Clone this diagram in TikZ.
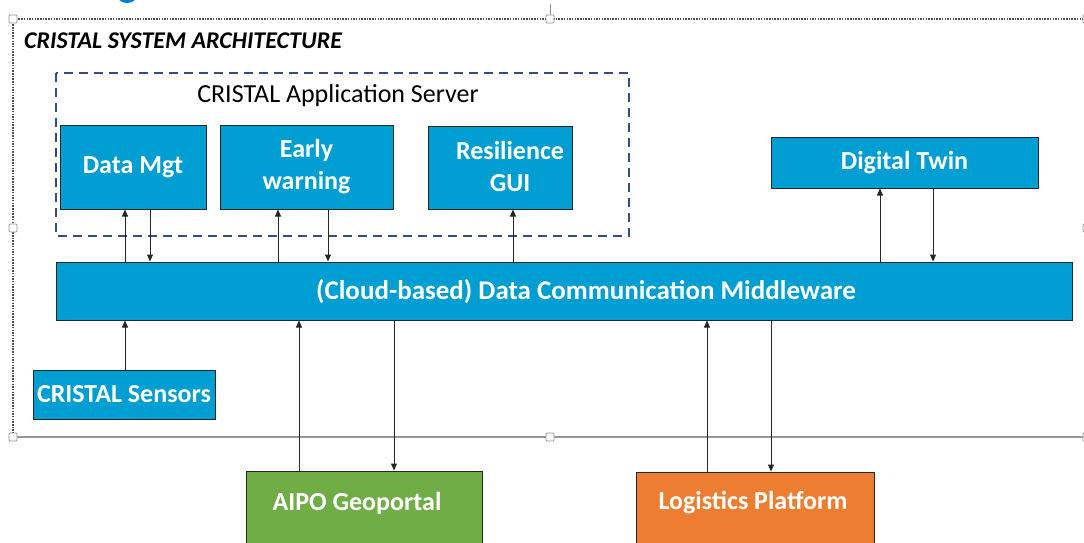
\documentclass[tikz,border=0pt]{standalone}
\usepackage{fontspec}
\setmainfont{Carlito}
\usetikzlibrary{arrows.meta}
\definecolor{cblue}{RGB}{0,158,210}
\definecolor{cgreen}{RGB}{112,173,71}
\definecolor{corange}{RGB}{237,125,49}
\definecolor{dashblue}{RGB}{47,77,140}
\definecolor{frameg}{RGB}{150,150,150}
\tikzset{
  box/.style={draw=black!85, line width=1pt, fill=cblue, text=white, inner sep=0pt, align=center,
    font=\fontsize{26}{32}\selectfont\bfseries},
  boxtext/.style={text=white, inner sep=0pt, align=center, font=\fontsize{26}{32}\selectfont\bfseries},
  conn/.style={draw=black!85, line width=1pt, -{Triangle[length=7pt,width=6pt]}},
  handle/.style={draw=frameg, fill=white, line width=0.8pt, minimum size=8pt, inner sep=0pt, rounded corners=1pt},
  framedot/.style={black!70, line width=1.3pt, dash pattern=on 1.5pt off 1.2pt}
}
\begin{document}
\begin{tikzpicture}[x=1pt,y=-1pt]
\useasboundingbox (0,0) rectangle (1084,543);
\fill[white] (0,0) rectangle (1084,543);
% cut-off blue mark at the top
\begin{scope}
\clip (0,0) rectangle (1084,543);
\fill[cblue!80!blue] (127,-5) ellipse (10 and 8);
\end{scope}
% selection frame
\draw[framedot] (13,19) -- (1084,19);
\draw[framedot] (13,19) -- (13,437);
\draw[frameg, line width=1.2pt] (13,437) -- (1084,437);
\draw[frameg, line width=0.8pt] (550,4) -- (550,15);
\node[handle] (h1) at (13,19) {};
\node[handle] (h2) at (550,19) {};
\node[handle] (h3) at (13,228) {};
\node[handle] (h4) at (13,437) {};
\node[handle] (h5) at (550,437) {};
\node[handle] (h6) at (1087,19) {};
\node[handle] (h7) at (1087,228) {};
\node[handle] (h8) at (1087,437) {};
% title
\node[anchor=west, inner sep=0pt, font=\fontsize{24}{28}\selectfont\bfseries\itshape] (title) at (24,41) {CRISTAL SYSTEM ARCHITECTURE};
% application server group
\draw[dashblue, line width=2pt, dash pattern=on 9pt off 6pt] (56,73) rectangle (629,236);
\node[inner sep=0pt, font=\fontsize{26}{32}\selectfont] (srv) at (338,96) {CRISTAL Application Server};
% boxes
\node[box, minimum width=146pt, minimum height=84pt] (dm) at (133,167) {Data Mgt};
\node[box, minimum width=173pt, minimum height=84pt] (ew) at (306.5,167) {Early\\warning};
\node[box, minimum width=144pt, minimum height=83pt] (rg) at (500,167.5) {};
\node[boxtext] (rgt) at (510,166) {Resilience\\GUI};
\node[box, minimum width=267pt, minimum height=51pt] (dt) at (904.5,162.5) {Digital Twin};
\node[box, minimum width=1016pt, minimum height=58pt] (mw) at (564,291) {};
\node[boxtext, font=\fontsize{27}{32}\selectfont\bfseries] (mwt) at (586,292) {(Cloud-based) Data Communication Middleware};
\node[box, minimum width=182pt, minimum height=49pt] (cs) at (124,394.5) {CRISTAL Sensors};
\node[box, fill=cgreen, minimum width=236pt, minimum height=80pt] (ai) at (364,511) {};
\node[boxtext] (ait) at (357,503) {AIPO Geoportal};
\node[box, fill=corange, minimum width=238pt, minimum height=80pt] (lp) at (755,512) {};
\node[boxtext] (lpt) at (753,503) {Logistics Platform};
% connectors
\draw[conn] (mw.north -| 125,0) -- (dm.south -| 125,0);
\draw[conn] (dm.south -| 150,0) -- (mw.north -| 150,0);
\draw[conn] (mw.north -| 278,0) -- (ew.south -| 278,0);
\draw[conn] (ew.south -| 328,0) -- (mw.north -| 328,0);
\draw[conn] (mw.north -| 513,0) -- (rg.south -| 513,0);
\draw[conn] (mw.north -| 880,0) -- (dt.south -| 880,0);
\draw[conn] (dt.south -| 933,0) -- (mw.north -| 933,0);
\draw[conn] (cs.north -| 125,0) -- (mw.south -| 125,0);
\draw[conn] (ai.north -| 299,0) -- (mw.south -| 299,0);
\draw[conn] (mw.south -| 394,0) -- (ai.north -| 394,0);
\draw[conn] (lp.north -| 707,0) -- (mw.south -| 707,0);
\draw[conn] (mw.south -| 771,0) -- (lp.north -| 771,0);
\end{tikzpicture}
\end{document}
